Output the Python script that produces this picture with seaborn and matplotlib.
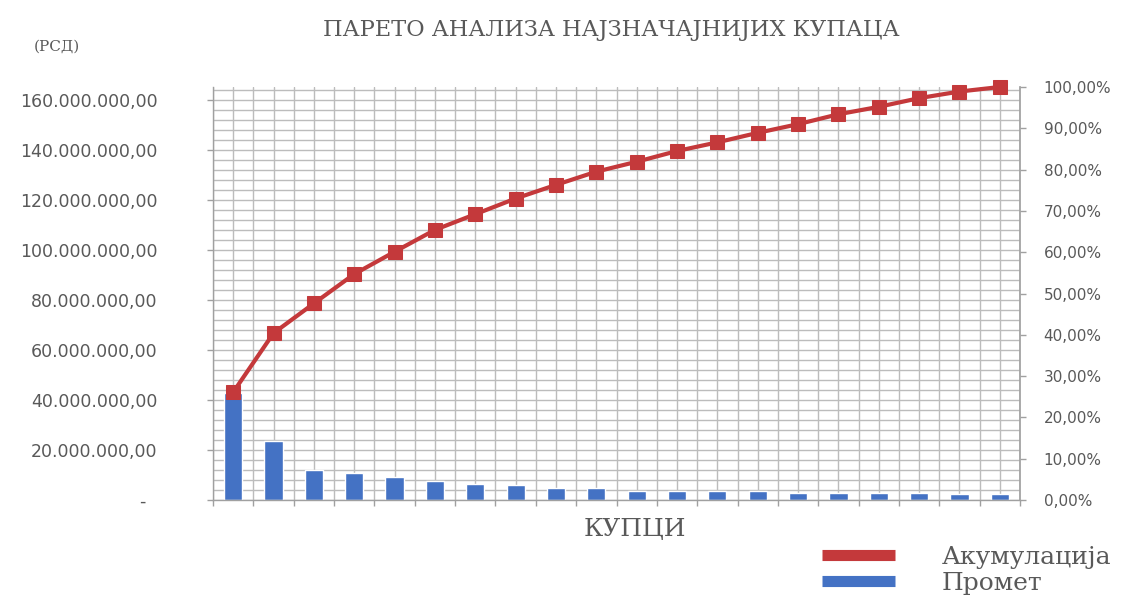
import numpy as np
import matplotlib
matplotlib.use("Agg")
import matplotlib.pyplot as plt
from matplotlib.lines import Line2D
from matplotlib.ticker import FuncFormatter, MultipleLocator
import seaborn as sns

# Top 20 customers: turnover (RSD) and cumulative share (%)
kupci = ["Купац 1", "Купац 2", "Купац 3", "Купац 4", "Купац 5",
         "Купац 6", "Купац 7", "Купац 8", "Купац 9", "Купац 10",
         "Купац 11", "Купац 12", "Купац 13", "Купац 14", "Купац 15",
         "Купац 16", "Купац 17", "Купац 18", "Купац 19", "Купац 20"]
promet = [42_800_000, 23_600_000, 12_000_000, 10_700_000, 9_100_000,
          7_700_000, 6_500_000, 5_900_000, 4_700_000, 4_700_000,
          3_700_000, 3_700_000, 3_700_000, 3_700_000, 2_900_000,
          2_900_000, 2_900_000, 2_900_000, 2_300_000, 2_300_000]
akumulacija = [26.1, 40.4, 47.6, 54.7, 60.1, 65.4, 69.2, 73.0, 76.3, 79.5,
               81.9, 84.5, 86.6, 88.9, 91.0, 93.4, 95.2, 97.3, 98.9, 100.0]

naslov = "ПАРЕТО АНАЛИЗА НАЈЗНАЧАЈНИЈИХ КУПАЦА"
jedinica = "(РСД)"
x_naslov = "КУПЦИ"
legenda = ["Акумулација", "Промет"]

BLUE = "#4472C4"
RED = "#C4393B"
GRID = "#bcbcbc"
AXIS = "#a0a0a0"
TEXT = "#595959"
SERIF = ["DejaVu Serif", "Liberation Serif"]

sns.set_theme(style="white")
plt.rcParams["font.family"] = ["DejaVu Sans"]

fig = plt.figure(figsize=(11.27, 5.99), dpi=100)
W, H = 1127, 599
ax = fig.add_axes([213 / W, 1 - 500 / H, (1020 - 213) / W, (500 - 87) / H])

sns.barplot(x=kupci, y=promet, order=kupci, color=BLUE, saturation=1,
            width=0.45, ax=ax)

ymax = 165_200_000
ax.set_ylim(0, ymax)
ax.set_xlim(-0.5, len(kupci) - 0.5)
ax.set_xlabel("")
ax.set_ylabel("")

# grid: minor every 4M horizontally, every half category vertically
ax.set_yticks(np.arange(0, 160_000_001, 20_000_000))
ax.set_yticks(np.arange(0, ymax, 4_000_000), minor=True)
ax.set_xticks(np.arange(len(kupci)))
ax.set_xticks(np.arange(-0.5, len(kupci)), minor=True)
ax.set_xticklabels([])
ax.grid(True, which="both", color=GRID, linewidth=1.0)
ax.set_axisbelow(True)


def fmt_rsd(v, _):
    if v == 0:
        return "-  "
    s = f"{v:,.2f}"
    return s.replace(",", " ").replace(".", ",").replace(" ", ".")


ax.yaxis.set_major_formatter(FuncFormatter(fmt_rsd))
ax.tick_params(axis="y", which="major", left=True, length=4, width=1,
               color=AXIS, pad=36, labelsize=12.5, labelcolor=TEXT)
ax.tick_params(axis="y", which="minor", left=False, length=0)
ax.tick_params(axis="x", which="major", bottom=False, length=0)
ax.tick_params(axis="x", which="minor", bottom=True, length=4, width=1,
               color=AXIS)
for side in ["top", "right"]:
    ax.spines[side].set_visible(False)
for side in ["left", "bottom"]:
    ax.spines[side].set_color(AXIS)
    ax.spines[side].set_linewidth(1)

# cumulative share on the secondary axis
ax2 = ax.twinx()
sns.lineplot(x=np.arange(len(kupci)), y=akumulacija, ax=ax2, color=RED,
             linewidth=3, marker="s", markersize=10, markeredgecolor=RED)
for ln in ax2.lines:
    ln.set_clip_on(False)
ax2.set_ylim(0, 100)
ax2.set_xlim(-0.5, len(kupci) - 0.5)
ax2.yaxis.set_major_locator(MultipleLocator(10))
ax2.yaxis.set_major_formatter(FuncFormatter(lambda v, _: f"{v:.2f}".replace(".", ",") + "%"))
ax2.tick_params(axis="y", which="major", right=True, length=4, width=1,
                color=AXIS, pad=13, labelsize=11, labelcolor=TEXT)
ax2.tick_params(axis="y", which="minor", right=False, length=0)
ax2.grid(False)
ax2.set_ylabel("")
for side in ["top", "left", "bottom"]:
    ax2.spines[side].set_visible(False)
ax2.spines["right"].set_color(AXIS)

fig.text(611 / W, 1 - 30 / H, naslov, ha="center", va="center",
         fontsize=16.2, color=TEXT, family=SERIF)
fig.text(57 / W, 1 - 47 / H, jedinica, ha="center", va="center",
         fontsize=11, color=TEXT, family=SERIF)
fig.text(635 / W, 1 - 529 / H, x_naslov, ha="center", va="center",
         fontsize=18, color=TEXT, family=SERIF)

handles = [Line2D([], [], color=RED, linewidth=8, solid_capstyle="butt"),
           Line2D([], [], color=BLUE, linewidth=8, solid_capstyle="butt")]
fig.legend(handles, legenda, loc="upper left",
           bbox_to_anchor=(822 / W, 1 - 546 / H), frameon=False,
           borderpad=0, borderaxespad=0, handlelength=2.9,
           handletextpad=1.9, labelspacing=0.12,
           prop={"family": SERIF, "size": 18}, labelcolor=TEXT)

fig.savefig("out.png", dpi=100)
